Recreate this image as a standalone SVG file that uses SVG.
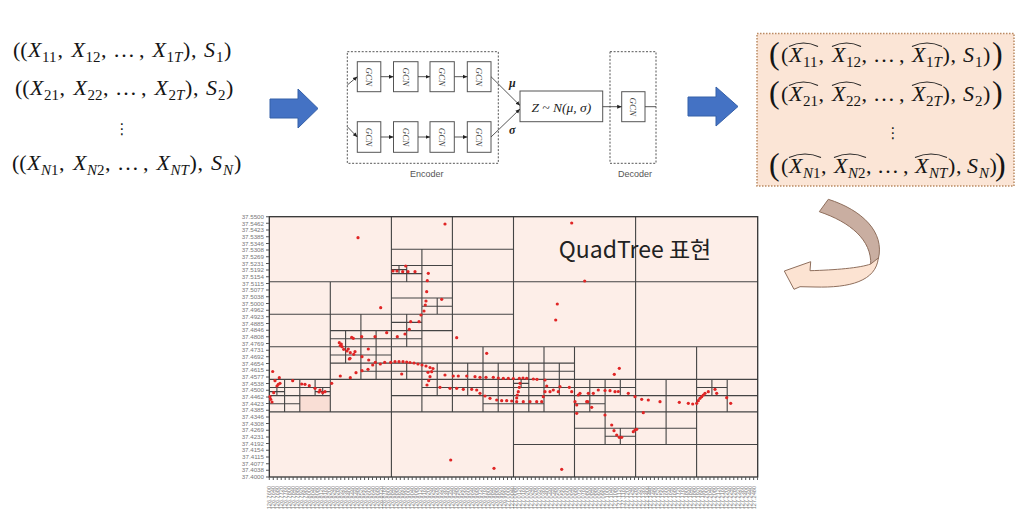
<svg xmlns="http://www.w3.org/2000/svg" width="1028" height="518" viewBox="0 0 1028 518">
<style>
.m{font-family:"Liberation Serif",serif;font-size:22px;fill:#151515}
.i{font-style:italic}
.s{font-size:15px}
.big{font-size:32px}
.dots{font-family:"DejaVu Sans",sans-serif;font-size:15px;fill:#222}
.hat{fill:none;stroke:#222;stroke-width:1.1}
.gbox{fill:#fff;stroke:#555;stroke-width:1}
.gtx{font-family:"Liberation Serif",serif;font-style:italic;font-size:9px;fill:#444}
.dash{fill:none;stroke:#555;stroke-width:1;stroke-dasharray:2 1.6}
.lbl{font-family:"Liberation Sans",sans-serif;font-size:9px;fill:#555}
.ln{fill:none;stroke:#444;stroke-width:0.9}
.gr{font-family:"Liberation Serif",serif;font-style:italic;font-weight:bold;font-size:12px;fill:#222}
.blue{fill:#4472c4;stroke:#3560a8;stroke-width:1}
.qt{fill:none;stroke:#444;stroke-width:1.1}
.pt{fill:#e02525}
.ytl{font-family:"Liberation Sans",sans-serif;font-size:6.2px;fill:#777;text-anchor:end}
.xtl{font-family:"Liberation Sans",sans-serif;font-size:5.6px;fill:#777;text-anchor:end}
</style>
<defs>
<marker id="ah" markerWidth="5" markerHeight="5" refX="4.5" refY="2.5" orient="auto" markerUnits="userSpaceOnUse"><path d="M0,0.5 L4.5,2.5 L0,4.5 Z" fill="#222"/></marker>
</defs>
<rect width="1028" height="518" fill="#fff"/>

<g id="input-sequences">
<text class="m"><tspan x="13" y="57">((</tspan><tspan x="28" y="57" class="i">X</tspan><tspan x="42" y="62" class="s">11</tspan><tspan x="57.5" y="57">,</tspan><tspan x="71.5" y="57" class="i">X</tspan><tspan x="85.5" y="62" class="s">12</tspan><tspan x="101" y="57">,</tspan><tspan x="113" y="57">…</tspan><tspan x="139" y="57">,</tspan><tspan x="152.5" y="57" class="i">X</tspan><tspan x="166.5" y="62" class="s">1</tspan><tspan class="s i">T</tspan><tspan x="183" y="57">)</tspan><tspan x="191" y="57">,</tspan><tspan x="204" y="57" class="i">S</tspan><tspan x="216" y="62" class="s">1</tspan><tspan x="224" y="57">)</tspan></text>
<text class="m"><tspan x="15" y="95">((</tspan><tspan x="30" y="95" class="i">X</tspan><tspan x="44" y="100" class="s">21</tspan><tspan x="59.5" y="95">,</tspan><tspan x="73.5" y="95" class="i">X</tspan><tspan x="87.5" y="100" class="s">22</tspan><tspan x="103" y="95">,</tspan><tspan x="115" y="95">…</tspan><tspan x="141" y="95">,</tspan><tspan x="154.5" y="95" class="i">X</tspan><tspan x="168.5" y="100" class="s">2</tspan><tspan class="s i">T</tspan><tspan x="185" y="95">)</tspan><tspan x="193" y="95">,</tspan><tspan x="206" y="95" class="i">S</tspan><tspan x="218" y="100" class="s">2</tspan><tspan x="226" y="95">)</tspan></text>
<text class="dots" x="122" y="134" text-anchor="middle">⋮</text>
<text class="m"><tspan x="12" y="170">((</tspan><tspan x="27" y="170" class="i">X</tspan><tspan x="41" y="175" class="s i">N</tspan><tspan class="s">1</tspan><tspan x="59" y="170">,</tspan><tspan x="73" y="170" class="i">X</tspan><tspan x="87" y="175" class="s i">N</tspan><tspan class="s">2</tspan><tspan x="105" y="170">,</tspan><tspan x="117" y="170">…</tspan><tspan x="143" y="170">,</tspan><tspan x="156.5" y="170" class="i">X</tspan><tspan x="170.5" y="175" class="s i">NT</tspan><tspan x="189.5" y="170">)</tspan><tspan x="197.5" y="170">,</tspan><tspan x="211" y="170" class="i">S</tspan><tspan x="223" y="175" class="s i">N</tspan><tspan x="234" y="170">)</tspan></text>
</g>

<g id="encoder">
<rect class="dash" x="347.3" y="51.7" width="151" height="111.6"/>
<text class="lbl" x="426.7" y="177" text-anchor="middle">Encoder</text>
</g>
<g id="gcn-e1"><rect class="gbox" x="357.3" y="61.7" width="23.5" height="30"/><text class="gtx" transform="translate(369,76.7) rotate(90)" text-anchor="middle" dy="3">GCN</text></g>
<g id="gcn-e2"><rect class="gbox" x="393.5" y="61.7" width="24.5" height="30"/><text class="gtx" transform="translate(405.7,76.7) rotate(90)" text-anchor="middle" dy="3">GCN</text></g>
<g id="gcn-e3"><rect class="gbox" x="430" y="61.7" width="24.3" height="30"/><text class="gtx" transform="translate(442.2,76.7) rotate(90)" text-anchor="middle" dy="3">GCN</text></g>
<g id="gcn-e4"><rect class="gbox" x="467.3" y="61.7" width="23.7" height="30"/><text class="gtx" transform="translate(479.2,76.7) rotate(90)" text-anchor="middle" dy="3">GCN</text></g>
<g id="gcn-e5"><rect class="gbox" x="357.3" y="121.7" width="23.5" height="30.6"/><text class="gtx" transform="translate(369,137) rotate(90)" text-anchor="middle" dy="3">GCN</text></g>
<g id="gcn-e6"><rect class="gbox" x="393.5" y="121.7" width="24.5" height="30.6"/><text class="gtx" transform="translate(405.7,137) rotate(90)" text-anchor="middle" dy="3">GCN</text></g>
<g id="gcn-e7"><rect class="gbox" x="430" y="121.7" width="24.3" height="30.6"/><text class="gtx" transform="translate(442.2,137) rotate(90)" text-anchor="middle" dy="3">GCN</text></g>
<g id="gcn-e8"><rect class="gbox" x="467.3" y="121.7" width="23.7" height="30.6"/><text class="gtx" transform="translate(479.2,137) rotate(90)" text-anchor="middle" dy="3">GCN</text></g>

<g id="latent">
<rect class="gbox" x="520" y="91" width="82.7" height="30.7"/>
<text x="561.3" y="111.5" text-anchor="middle" style="font-family:'Liberation Serif',serif;font-style:italic;font-size:13.5px;fill:#222">Z ~ N(μ, σ)</text>
</g>

<g id="decoder">
<rect class="dash" x="610" y="51.7" width="46" height="111.6"/>
<text class="lbl" x="635" y="177" text-anchor="middle">Decoder</text>
</g>
<g id="gcn-d1"><rect class="gbox" x="621.7" y="91.7" width="23.3" height="30"/><text class="gtx" transform="translate(633.3,106.7) rotate(90)" text-anchor="middle" dy="3">GCN</text></g>

<g id="output-sequences">
<rect x="757" y="33.5" width="257" height="152.5" fill="#fbe5d6" stroke="#bb8a63" stroke-width="1.5" stroke-dasharray="1.5 1.5"/>
<text class="m"><tspan x="769" y="64" class="big">(</tspan><tspan x="781" y="62">(</tspan><tspan x="789" y="62" class="i">X</tspan><tspan x="803" y="67" class="s">11</tspan><tspan x="818.5" y="62">,</tspan><tspan x="832" y="62" class="i">X</tspan><tspan x="846" y="67" class="s">12</tspan><tspan x="861.5" y="62">,</tspan><tspan x="873" y="62">…</tspan><tspan x="899" y="62">,</tspan><tspan x="912" y="62" class="i">X</tspan><tspan x="926" y="67" class="s">1</tspan><tspan class="s i">T</tspan><tspan x="942.5" y="62">)</tspan><tspan x="950.5" y="62">,</tspan><tspan x="963" y="62" class="i">S</tspan><tspan x="975" y="67" class="s">1</tspan><tspan x="983" y="62">)</tspan><tspan x="992" y="64" class="big">)</tspan></text>
<text class="m"><tspan x="769" y="103" class="big">(</tspan><tspan x="781" y="101">(</tspan><tspan x="789" y="101" class="i">X</tspan><tspan x="803" y="106" class="s">21</tspan><tspan x="818.5" y="101">,</tspan><tspan x="832" y="101" class="i">X</tspan><tspan x="846" y="106" class="s">22</tspan><tspan x="861.5" y="101">,</tspan><tspan x="873" y="101">…</tspan><tspan x="899" y="101">,</tspan><tspan x="912" y="101" class="i">X</tspan><tspan x="926" y="106" class="s">2</tspan><tspan class="s i">T</tspan><tspan x="942.5" y="101">)</tspan><tspan x="950.5" y="101">,</tspan><tspan x="963" y="101" class="i">S</tspan><tspan x="975" y="106" class="s">2</tspan><tspan x="983" y="101">)</tspan><tspan x="992" y="103" class="big">)</tspan></text>
<text class="dots" x="893" y="138" text-anchor="middle">⋮</text>
<text class="m"><tspan x="769" y="175" class="big">(</tspan><tspan x="781" y="173">(</tspan><tspan x="789" y="173" class="i">X</tspan><tspan x="803" y="178" class="s i">N</tspan><tspan class="s">1</tspan><tspan x="821" y="173">,</tspan><tspan x="834" y="173" class="i">X</tspan><tspan x="848" y="178" class="s i">N</tspan><tspan class="s">2</tspan><tspan x="866" y="173">,</tspan><tspan x="877" y="173">…</tspan><tspan x="903" y="173">,</tspan><tspan x="915" y="173" class="i">X</tspan><tspan x="929" y="178" class="s i">NT</tspan><tspan x="948" y="173">)</tspan><tspan x="956" y="173">,</tspan><tspan x="967" y="173" class="i">S</tspan><tspan x="979" y="178" class="s i">N</tspan><tspan x="989.5" y="173">)</tspan><tspan x="995" y="175" class="big">)</tspan></text>
<path class="hat" d="M789,46.5 Q803.5,39.5 818,46.5 M832,46.5 Q846.5,39.5 861,46.5 M912,46.5 Q927,39.5 942,46.5 M789,85.5 Q803.5,78.5 818,85.5 M832,85.5 Q846.5,78.5 861,85.5 M912,85.5 Q927,78.5 942,85.5 M789,157.5 Q805,150.5 821,157.5 M834,157.5 Q850,150.5 866,157.5 M915,157.5 Q931,150.5 947,157.5"/>
</g>

<g id="quadtree-plot">
<rect x="269.3" y="216.7" width="488.4" height="260.3" fill="#fdeee8"/>
<rect x="299.8" y="395.6" width="30.5" height="16.3" fill="#f9ded5"/>
<path class="qt" d="M513.5 216.7V477M391.4 216.7V477M635.6 216.7V477M452.4 216.7V411.9M421.9 249.2V411.9M406.7 265.5V281.8M399 265.5V273.6M330.3 281.8V411.9M360.9 314.3V379.4M345.6 330.6V363.1M376.1 330.6V379.4M406.7 314.3V346.8M406.7 363.1V379.4M437.2 298V314.3M437.2 363.1V395.6M299.8 379.4V411.9M284.6 379.4V411.9M276.9 387.5V395.6M315.1 379.4V395.6M322.7 387.5V395.6M483 346.8V411.9M467.7 363.1V395.6M498.2 363.1V411.9M574.5 346.8V477M544 346.8V411.9M528.8 363.1V411.9M521.1 379.4V387.5M559.3 363.1V395.6M605.1 379.4V444.5M589.8 379.4V411.9M620.3 379.4V395.6M620.3 428.2V444.5M696.6 346.8V477M666.1 379.4V444.5M727.2 379.4V411.9M711.9 379.4V395.6
M269.3 346.8H757.7M269.3 281.8H757.7M269.3 411.9H757.7M391.4 249.2H513.5M391.4 265.5H452.4M391.4 273.6H421.9M391.4 269.6H406.7M269.3 314.3H513.5M330.3 330.6H452.4M330.3 338.7H421.9M391.4 298H452.4M421.9 306.2H452.4M391.4 322.4H421.9M269.3 379.4H757.7M330.3 363.1H574.5M330.3 355H391.4M360.9 371.2H574.5M269.3 395.6H330.3M391.4 395.6H757.7M269.3 387.5H330.3M421.9 387.5H635.6M696.6 387.5H727.2M269.3 391.6H284.6M315.1 391.6H330.3M269.3 403.8H299.8M483 403.8H544M574.5 403.8H605.1M513.5 383.4H528.8M574.5 428.2H696.6M605.1 436.3H635.6M513.5 444.5H757.7"/>
<rect x="269.3" y="216.7" width="488.4" height="260.3" fill="none" stroke="#333" stroke-width="1.3"/>
<path d="M267.5 216.2V477.5" stroke="#555" stroke-width="3" stroke-dasharray="1 5.674" fill="none"/>
<path d="M268.8 478.5H758" stroke="#555" stroke-width="3" stroke-dasharray="1 2.97" fill="none"/>
<g class="pt">
<circle cx="358" cy="237.7" r="1.6"/><circle cx="445" cy="224" r="1.6"/><circle cx="571.7" cy="223" r="1.6"/><circle cx="584.7" cy="281" r="1.6"/><circle cx="557.3" cy="304" r="1.6"/><circle cx="555.7" cy="320" r="1.6"/><circle cx="380.7" cy="307.7" r="1.6"/><circle cx="456.7" cy="337.7" r="1.6"/><circle cx="486.7" cy="353.3" r="1.6"/><circle cx="450.7" cy="460" r="1.6"/><circle cx="494" cy="468.3" r="1.6"/><circle cx="561.7" cy="469.3" r="1.6"/><circle cx="614.3" cy="374.3" r="1.6"/><circle cx="619.3" cy="368.3" r="1.6"/>
<circle cx="393" cy="271" r="1.6"/><circle cx="397" cy="271" r="1.6"/><circle cx="402.7" cy="271.7" r="1.6"/><circle cx="408" cy="271.7" r="1.6"/><circle cx="415" cy="271.7" r="1.6"/><circle cx="405.7" cy="266" r="1.6"/><circle cx="428.3" cy="273.3" r="1.6"/><circle cx="427.3" cy="280.7" r="1.6"/>
<circle cx="426.7" cy="291.7" r="1.6"/><circle cx="426" cy="301" r="1.6"/><circle cx="425.3" cy="305" r="1.6"/><circle cx="424" cy="311" r="1.6"/><circle cx="421" cy="315" r="1.6"/><circle cx="419" cy="321.7" r="1.6"/><circle cx="410.7" cy="321.7" r="1.6"/><circle cx="409.3" cy="329.3" r="1.6"/><circle cx="405" cy="334" r="1.6"/><circle cx="397.3" cy="336.7" r="1.6"/><circle cx="386.7" cy="332.7" r="1.6"/><circle cx="375" cy="336.7" r="1.6"/><circle cx="361.7" cy="336.7" r="1.6"/><circle cx="353.3" cy="338.3" r="1.6"/><circle cx="351.7" cy="337.3" r="1.6"/><circle cx="441.7" cy="299.3" r="1.6"/>
<circle cx="339.3" cy="342.7" r="1.6"/><circle cx="341.3" cy="344" r="1.6"/><circle cx="340.3" cy="345.5" r="1.6"/><circle cx="342" cy="346.7" r="1.6"/><circle cx="343.7" cy="349.3" r="1.6"/><circle cx="347" cy="351" r="1.6"/><circle cx="350.3" cy="352.7" r="1.6"/><circle cx="353.7" cy="354.3" r="1.6"/><circle cx="348.3" cy="349" r="1.6"/><circle cx="355" cy="351.7" r="1.6"/><circle cx="368.3" cy="349" r="1.6"/><circle cx="362" cy="356.7" r="1.6"/><circle cx="368.7" cy="360" r="1.6"/><circle cx="375.3" cy="362.3" r="1.6"/><circle cx="380.3" cy="364" r="1.6"/><circle cx="384.7" cy="362.3" r="1.6"/><circle cx="350" cy="358.3" r="1.6"/><circle cx="349.3" cy="359" r="1.6"/>
<circle cx="356" cy="372.7" r="1.6"/><circle cx="362" cy="370.7" r="1.6"/><circle cx="368" cy="369.3" r="1.6"/><circle cx="372.7" cy="365" r="1.6"/><circle cx="340.3" cy="376" r="1.6"/><circle cx="350.3" cy="377.7" r="1.6"/><circle cx="331.7" cy="383.3" r="1.6"/>
<circle cx="390.7" cy="362.3" r="1.6"/><circle cx="395" cy="361.7" r="1.6"/><circle cx="399" cy="361.7" r="1.6"/><circle cx="403" cy="361.7" r="1.6"/><circle cx="406.7" cy="362" r="1.6"/><circle cx="410" cy="362.5" r="1.6"/><circle cx="414" cy="363" r="1.6"/><circle cx="418" cy="364" r="1.6"/><circle cx="422" cy="365" r="1.6"/><circle cx="426" cy="366" r="1.6"/><circle cx="430" cy="367.5" r="1.6"/><circle cx="433" cy="368.5" r="1.6"/>
<circle cx="401.7" cy="374" r="1.6"/><circle cx="428" cy="372.3" r="1.6"/><circle cx="428.7" cy="380.7" r="1.6"/><circle cx="427" cy="385" r="1.6"/><circle cx="430" cy="376.7" r="1.6"/><circle cx="431.7" cy="371.7" r="1.6"/>
<circle cx="272.7" cy="371.5" r="1.6"/><circle cx="275" cy="380.7" r="1.6"/><circle cx="279.3" cy="377.7" r="1.6"/><circle cx="278.3" cy="384.3" r="1.6"/><circle cx="280" cy="383.3" r="1.6"/><circle cx="277" cy="386" r="1.6"/><circle cx="273.7" cy="392.7" r="1.6"/><circle cx="270" cy="396.7" r="1.6"/><circle cx="270.7" cy="399.3" r="1.6"/><circle cx="272" cy="402" r="1.6"/>
<circle cx="292.7" cy="380.7" r="1.6"/><circle cx="301.7" cy="384" r="1.6"/><circle cx="305" cy="384.3" r="1.6"/><circle cx="309.3" cy="385.7" r="1.6"/><circle cx="315" cy="388.3" r="1.6"/><circle cx="320" cy="390" r="1.6"/><circle cx="322.7" cy="392.7" r="1.6"/><circle cx="325" cy="391.7" r="1.6"/><circle cx="319" cy="392" r="1.6"/>
<circle cx="445" cy="375" r="1.6"/><circle cx="453.3" cy="376" r="1.6"/><circle cx="458.3" cy="376" r="1.6"/><circle cx="466.7" cy="376" r="1.6"/><circle cx="475" cy="376.7" r="1.6"/><circle cx="480" cy="377.3" r="1.6"/><circle cx="486" cy="377.3" r="1.6"/><circle cx="493.3" cy="377.3" r="1.6"/><circle cx="498.3" cy="378" r="1.6"/><circle cx="503.3" cy="378.3" r="1.6"/><circle cx="508.3" cy="378.3" r="1.6"/><circle cx="513.3" cy="378.5" r="1.6"/><circle cx="519.3" cy="378.3" r="1.6"/><circle cx="523" cy="378" r="1.6"/><circle cx="526.7" cy="378.3" r="1.6"/><circle cx="533.3" cy="379" r="1.6"/><circle cx="537" cy="379.3" r="1.6"/><circle cx="545" cy="380" r="1.6"/>
<circle cx="440" cy="387.3" r="1.6"/><circle cx="450" cy="388.3" r="1.6"/><circle cx="456.7" cy="388.3" r="1.6"/><circle cx="463.3" cy="389.3" r="1.6"/><circle cx="471.7" cy="389.3" r="1.6"/><circle cx="476.7" cy="390" r="1.6"/><circle cx="480" cy="393.3" r="1.6"/><circle cx="485" cy="396" r="1.6"/><circle cx="490" cy="398.3" r="1.6"/><circle cx="496.7" cy="400" r="1.6"/><circle cx="501.7" cy="400.7" r="1.6"/><circle cx="506.7" cy="400.7" r="1.6"/><circle cx="511.7" cy="401" r="1.6"/><circle cx="516.7" cy="401.7" r="1.6"/><circle cx="523.3" cy="401.7" r="1.6"/><circle cx="530" cy="401.7" r="1.6"/><circle cx="536.7" cy="401.7" r="1.6"/><circle cx="541.7" cy="401.7" r="1.6"/>
<circle cx="520" cy="383.3" r="1.6"/><circle cx="519.3" cy="387.3" r="1.6"/><circle cx="518.3" cy="391.7" r="1.6"/><circle cx="517.3" cy="395" r="1.6"/><circle cx="516.7" cy="398" r="1.6"/>
<circle cx="543.3" cy="396.7" r="1.6"/><circle cx="545" cy="391.7" r="1.6"/><circle cx="546.7" cy="386" r="1.6"/><circle cx="550" cy="391.7" r="1.6"/><circle cx="553.3" cy="390" r="1.6"/><circle cx="558.3" cy="391.7" r="1.6"/><circle cx="560" cy="386.7" r="1.6"/><circle cx="569.3" cy="387.3" r="1.6"/><circle cx="571.7" cy="391.7" r="1.6"/><circle cx="575" cy="401.7" r="1.6"/><circle cx="576.7" cy="405" r="1.6"/><circle cx="576.7" cy="413.3" r="1.6"/><circle cx="578.3" cy="395" r="1.6"/><circle cx="580" cy="393.3" r="1.6"/><circle cx="586.7" cy="401.7" r="1.6"/><circle cx="588.3" cy="393.3" r="1.6"/><circle cx="591.7" cy="407.3" r="1.6"/><circle cx="593.3" cy="393.3" r="1.6"/><circle cx="598.3" cy="390" r="1.6"/><circle cx="605" cy="390.5" r="1.6"/><circle cx="610" cy="390.7" r="1.6"/><circle cx="615" cy="391.7" r="1.6"/><circle cx="618.3" cy="391.5" r="1.6"/><circle cx="628.3" cy="393.3" r="1.6"/><circle cx="635" cy="396.7" r="1.6"/><circle cx="641.7" cy="399.3" r="1.6"/><circle cx="648.3" cy="400" r="1.6"/><circle cx="660" cy="401.7" r="1.6"/><circle cx="679.3" cy="402.3" r="1.6"/><circle cx="688.3" cy="403.3" r="1.6"/><circle cx="692.7" cy="404" r="1.6"/><circle cx="696.7" cy="403.3" r="1.6"/><circle cx="698.3" cy="400.7" r="1.6"/><circle cx="700" cy="398.3" r="1.6"/><circle cx="701.7" cy="396.7" r="1.6"/><circle cx="703.3" cy="395" r="1.6"/><circle cx="705" cy="393.3" r="1.6"/><circle cx="708.3" cy="391.7" r="1.6"/><circle cx="715" cy="389.3" r="1.6"/><circle cx="716.7" cy="393.3" r="1.6"/><circle cx="726.7" cy="397.7" r="1.6"/><circle cx="730.7" cy="403.3" r="1.6"/>
<circle cx="605" cy="415" r="1.6"/><circle cx="611.7" cy="425" r="1.6"/><circle cx="614" cy="430.7" r="1.6"/><circle cx="616.7" cy="435" r="1.6"/><circle cx="619.3" cy="437.3" r="1.6"/><circle cx="621.7" cy="437.3" r="1.6"/><circle cx="633.3" cy="431.7" r="1.6"/><circle cx="635" cy="430" r="1.6"/><circle cx="636.7" cy="429.3" r="1.6"/><circle cx="643.3" cy="412.7" r="1.6"/><circle cx="587.7" cy="401.7" r="1.6"/>
</g>
<text x="635" y="258" text-anchor="middle" style="font-family:'Noto Sans CJK KR','Noto Sans',sans-serif;font-size:23px;fill:#222">QuadTree 표현</text>
<g class="ytl">
<text x="264" y="218.8">37.5500</text><text x="264" y="225.5">37.5462</text><text x="264" y="232.1">37.5423</text><text x="264" y="238.8">37.5385</text><text x="264" y="245.5">37.5346</text><text x="264" y="252.2">37.5308</text><text x="264" y="258.8">37.5269</text><text x="264" y="265.5">37.5231</text><text x="264" y="272.2">37.5192</text><text x="264" y="278.9">37.5154</text><text x="264" y="285.5">37.5115</text><text x="264" y="292.2">37.5077</text><text x="264" y="298.9">37.5038</text><text x="264" y="305.6">37.5000</text><text x="264" y="312.2">37.4962</text><text x="264" y="318.9">37.4923</text><text x="264" y="325.6">37.4885</text><text x="264" y="332.3">37.4846</text><text x="264" y="338.9">37.4808</text><text x="264" y="345.6">37.4769</text><text x="264" y="352.3">37.4731</text><text x="264" y="359">37.4692</text><text x="264" y="365.6">37.4654</text><text x="264" y="372.3">37.4615</text><text x="264" y="379">37.4577</text><text x="264" y="385.7">37.4538</text><text x="264" y="392.3">37.4500</text><text x="264" y="399">37.4462</text><text x="264" y="405.7">37.4423</text><text x="264" y="412.4">37.4385</text><text x="264" y="419">37.4346</text><text x="264" y="425.7">37.4308</text><text x="264" y="432.4">37.4269</text><text x="264" y="439.1">37.4231</text><text x="264" y="445.7">37.4192</text><text x="264" y="452.4">37.4154</text><text x="264" y="459.1">37.4115</text><text x="264" y="465.7">37.4077</text><text x="264" y="472.4">37.4038</text><text x="264" y="479.1">37.4000</text>
</g>
<g class="xtl" transform="rotate(-90)">
<text x="-486" y="271.3">126.7600</text><text x="-486" y="275.3">126.7640</text><text x="-486" y="279.2">126.7680</text><text x="-486" y="283.2">126.7720</text><text x="-486" y="287.2">126.7760</text><text x="-486" y="291.1">126.7800</text><text x="-486" y="295.1">126.7840</text><text x="-486" y="299.1">126.7880</text><text x="-486" y="303.1">126.7920</text><text x="-486" y="307">126.7960</text><text x="-486" y="311">126.8000</text><text x="-486" y="315">126.8040</text><text x="-486" y="318.9">126.8080</text><text x="-486" y="322.9">126.8120</text><text x="-486" y="326.9">126.8160</text><text x="-486" y="330.9">126.8200</text><text x="-486" y="334.8">126.8240</text><text x="-486" y="338.8">126.8280</text><text x="-486" y="342.8">126.8320</text><text x="-486" y="346.7">126.8360</text><text x="-486" y="350.7">126.8400</text><text x="-486" y="354.7">126.8440</text><text x="-486" y="358.6">126.8480</text><text x="-486" y="362.6">126.8520</text><text x="-486" y="366.6">126.8560</text><text x="-486" y="370.6">126.8600</text><text x="-486" y="374.5">126.8640</text><text x="-486" y="378.5">126.8680</text><text x="-486" y="382.5">126.8720</text><text x="-486" y="386.4">126.8760</text><text x="-486" y="390.4">126.8800</text><text x="-486" y="394.4">126.8840</text><text x="-486" y="398.3">126.8880</text><text x="-486" y="402.3">126.8920</text><text x="-486" y="406.3">126.8960</text><text x="-486" y="410.3">126.9000</text><text x="-486" y="414.2">126.9040</text><text x="-486" y="418.2">126.9080</text><text x="-486" y="422.2">126.9120</text><text x="-486" y="426.1">126.9160</text><text x="-486" y="430.1">126.9200</text><text x="-486" y="434.1">126.9240</text><text x="-486" y="438">126.9280</text><text x="-486" y="442">126.9320</text><text x="-486" y="446">126.9360</text><text x="-486" y="450">126.9400</text><text x="-486" y="453.9">126.9440</text><text x="-486" y="457.9">126.9480</text><text x="-486" y="461.9">126.9520</text><text x="-486" y="465.8">126.9560</text><text x="-486" y="469.8">126.9600</text><text x="-486" y="473.8">126.9640</text><text x="-486" y="477.7">126.9680</text><text x="-486" y="481.7">126.9720</text><text x="-486" y="485.7">126.9760</text><text x="-486" y="489.7">126.9800</text><text x="-486" y="493.6">126.9840</text><text x="-486" y="497.6">126.9880</text><text x="-486" y="501.6">126.9920</text><text x="-486" y="505.5">126.9960</text><text x="-486" y="509.5">127.0000</text><text x="-486" y="513.5">127.0040</text><text x="-486" y="517.4">127.0080</text><text x="-486" y="521.4">127.0120</text><text x="-486" y="525.4">127.0160</text><text x="-486" y="529.4">127.0200</text><text x="-486" y="533.3">127.0240</text><text x="-486" y="537.3">127.0280</text><text x="-486" y="541.3">127.0320</text><text x="-486" y="545.2">127.0360</text><text x="-486" y="549.2">127.0400</text><text x="-486" y="553.2">127.0440</text><text x="-486" y="557.1">127.0480</text><text x="-486" y="561.1">127.0520</text><text x="-486" y="565.1">127.0560</text><text x="-486" y="569.1">127.0600</text><text x="-486" y="573">127.0640</text><text x="-486" y="577">127.0680</text><text x="-486" y="581">127.0720</text><text x="-486" y="584.9">127.0760</text><text x="-486" y="588.9">127.0800</text><text x="-486" y="592.9">127.0840</text><text x="-486" y="596.8">127.0880</text><text x="-486" y="600.8">127.0920</text><text x="-486" y="604.8">127.0960</text><text x="-486" y="608.8">127.1000</text><text x="-486" y="612.7">127.1040</text><text x="-486" y="616.7">127.1080</text><text x="-486" y="620.7">127.1120</text><text x="-486" y="624.6">127.1160</text><text x="-486" y="628.6">127.1200</text><text x="-486" y="632.6">127.1240</text><text x="-486" y="636.5">127.1280</text><text x="-486" y="640.5">127.1320</text><text x="-486" y="644.5">127.1360</text><text x="-486" y="648.5">127.1400</text><text x="-486" y="652.4">127.1440</text><text x="-486" y="656.4">127.1480</text><text x="-486" y="660.4">127.1520</text><text x="-486" y="664.3">127.1560</text><text x="-486" y="668.3">127.1600</text><text x="-486" y="672.3">127.1640</text><text x="-486" y="676.2">127.1680</text><text x="-486" y="680.2">127.1720</text><text x="-486" y="684.2">127.1760</text><text x="-486" y="688.2">127.1800</text><text x="-486" y="692.1">127.1840</text><text x="-486" y="696.1">127.1880</text><text x="-486" y="700.1">127.1920</text><text x="-486" y="704">127.1960</text><text x="-486" y="708">127.2000</text><text x="-486" y="712">127.2040</text><text x="-486" y="715.9">127.2080</text><text x="-486" y="719.9">127.2120</text><text x="-486" y="723.9">127.2160</text><text x="-486" y="727.9">127.2200</text><text x="-486" y="731.8">127.2240</text><text x="-486" y="735.8">127.2280</text><text x="-486" y="739.8">127.2320</text><text x="-486" y="743.7">127.2360</text><text x="-486" y="747.7">127.2400</text><text x="-486" y="751.7">127.2440</text><text x="-486" y="755.6">127.2480</text>
</g>
</g>

<g id="connectors">
<polygon class="blue" points="270,99 298,99 298,89 318,108.5 298,128 298,118 270,118"/>
<polygon class="blue" points="688,97 716,97 716,87 738,106.5 716,126 716,116 688,116"/>
<path class="ln" d="M347.3,85 L357.3,76.7" marker-end="url(#ah)"/>
<path class="ln" d="M347.3,126.7 L357.3,137" marker-end="url(#ah)"/>
<path class="ln" d="M380.8,76.7 H393.5" marker-end="url(#ah)"/>
<path class="ln" d="M418,76.7 H430" marker-end="url(#ah)"/>
<path class="ln" d="M454.3,76.7 H467.3" marker-end="url(#ah)"/>
<path class="ln" d="M380.8,137 H393.5" marker-end="url(#ah)"/>
<path class="ln" d="M418,137 H430" marker-end="url(#ah)"/>
<path class="ln" d="M454.3,137 H467.3" marker-end="url(#ah)"/>
<path class="ln" d="M491,76.7 L520,105.5" marker-end="url(#ah)"/>
<path class="ln" d="M491,137 L520,109" marker-end="url(#ah)"/>
<text class="gr" x="509" y="87">μ</text>
<text class="gr" x="509" y="134">σ</text>
<path class="ln" d="M602.7,106.7 H621.7" marker-end="url(#ah)"/>
<path class="ln" d="M645,106.7 H656"/>
<path d="M828.3,199.3 C862,210 885,232 878.3,259 L870.7,265 C872,240 850,222 819.3,211.7 Z" fill="#c9aea1" stroke="#8f6f5d" stroke-width="1"/>
<path d="M878.3,258 C876,281 850,288 815,287 L800,286.7 L794,289.3 L784.3,271 L810.7,261.7 L810,270.7 C835,270 860,268 870.7,264 Z" fill="#fce3d2" stroke="#8f6f5d" stroke-width="1"/>
</g>
</svg>
